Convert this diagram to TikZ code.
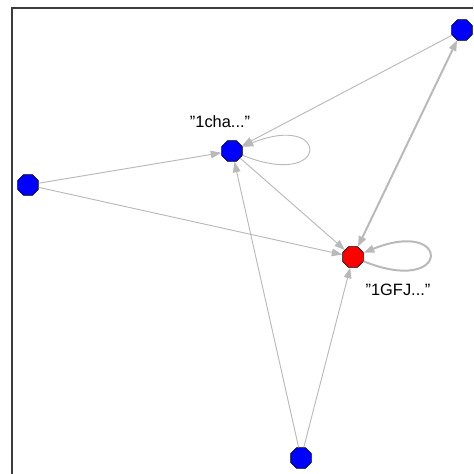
\documentclass[tikz,border=0pt]{standalone}
\usepackage{fontspec}
\setmainfont{Liberation Sans}
\usetikzlibrary{arrows.meta,shapes.geometric}

\definecolor{edgegray}{RGB}{185,185,185}
\definecolor{framegray}{RGB}{60,60,60}

\begin{document}
\begin{tikzpicture}[
  x=0.03cm, y=-0.03cm,
  vert/.style={draw=black, regular polygon, regular polygon sides=8, inner sep=0pt, minimum size=0.68cm, fill=blue},
  hub/.style={vert, fill=red},
  lbl/.style={font=\fontsize{14}{16}\selectfont, inner sep=0pt},
  link/.style={draw=edgegray, line width=0.8pt, -{Triangle[length=9pt, width=6.5pt]}},
  heavy/.style={link, line width=1.7pt},
  frame/.style={draw=framegray, line width=1.6pt}
]
\useasboundingbox (0,0) rectangle (473,474);
\draw[frame] (12,474) -- (12,8) -- (473,8);

\node[vert] (top) at (462,30) {};
\node[vert] (cha) at (232,151) {};
\node[vert] (left) at (28,185) {};
\node[hub] (gfj) at (353,257) {};
\node[vert] (bot) at (301,458) {};

\node[lbl] (chalbl) at (220,122) {\symbol{34}1cha...\symbol{34}};
\node[lbl] (gfjlbl) at (398,290) {\symbol{34}1GFJ...\symbol{34}};

\draw[link] (top) -- (cha);
\draw[heavy, {Triangle[length=9pt, width=6.5pt]}-{Triangle[length=9pt, width=6.5pt]}] (top) -- (gfj);
\draw[link] (left) -- (cha);
\draw[link] (left) -- (gfj);
\draw[link] (cha) -- (gfj);
\draw[link] (bot) -- (cha);
\draw[link] (bot) -- (gfj);
\draw[link] (cha) to[out=-22, in=22, min distance=2.85cm] (cha);
\draw[heavy] (gfj) to[out=-22, in=22, min distance=2.85cm] (gfj);

\end{tikzpicture}
\end{document}
